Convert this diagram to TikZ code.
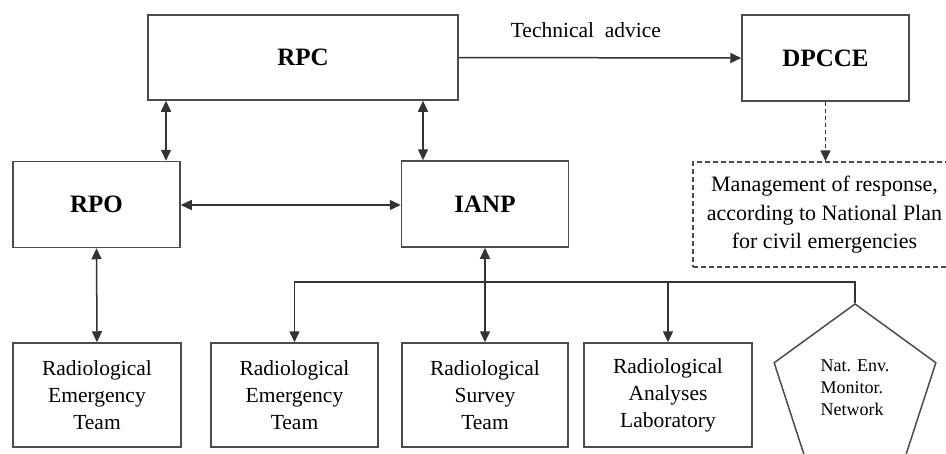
\documentclass[tikz,border=0pt]{standalone}
\usepackage{fontspec}
\setmainfont{Liberation Serif}
\usetikzlibrary{arrows.meta,shapes.geometric}

\begin{document}
\begin{tikzpicture}[x=1pt,y=-1pt,
	unit/.style={draw=black!70, line width=1.5pt, fill=white, align=center, inner sep=2pt},
	head/.style={unit, font=\fontsize{25}{30}\selectfont\bfseries, minimum width=167pt, minimum height=86pt},
	team/.style={unit, font=\fontsize{21.5}{27}\selectfont, minimum width=168pt, minimum height=104pt},
	link/.style={draw=black!80, line width=1.5pt, -{Triangle[length=11pt,width=10pt]}},
	both/.style={link, {Triangle[length=11pt,width=10pt]}-{Triangle[length=11pt,width=10pt]}}
	]
	\useasboundingbox (0,0) rectangle (946,453);
	
	% upper level
	\node[head, minimum width=310pt, minimum height=85pt] (rpc) at (303,57.5) {RPC};
	\node[head] (dpcce) at (825.5,58) {DPCCE};
	\node[head] (rpo) at (96.5,204.5) {RPO};
	\node[head] (ianp) at (485,204) {IANP};
	\node[unit, dash pattern=on 5pt off 3pt, minimum width=280pt, minimum height=105pt,
		font=\fontsize{22}{28.5}\selectfont] (mgmt) at (833,214.5)
		{\hspace*{-17pt}\begin{tabular}{@{}c@{}}Management of response,\\ according to National Plan\\ for civil emergencies\end{tabular}};
	
	% teams
	\node[team] (ret1) at (97,395) {Radiological\\ Emergency\\ Team};
	\node[team, minimum width=167pt] (ret2) at (294.5,395) {Radiological\\ Emergency\\ Team};
	\node[team, minimum width=166pt] (rst) at (485,395) {Radiological\\ Survey\\ Team};
	\node[team] (ral) at (668,395) {Radiological\\ Analyses\\ Laboratory};
	\node[unit, regular polygon, regular polygon sides=5, minimum size=170pt, align=left,
		font=\fontsize{18}{22}\selectfont] (nemn) at (855,389)
		{\raisebox{9pt}{\begin{tabular}{@{}l@{}}Nat. Env.\\ Monitor.\\ Network\end{tabular}}};
	
	\coordinate (c1) at (166,0);
	\coordinate (c2) at (423,0);
	\coordinate (mid) at (0,205);
	\coordinate (bus) at (0,282);
	
	\draw[link] (rpc.east) -- (dpcce.west)
		node[pos=0.45, above=16pt, font=\fontsize{21.5}{26}\selectfont] (adv) {Technical\ \ advice};
	\draw[link, dash pattern=on 4pt off 3pt] (dpcce.south) -- (mgmt.north -| dpcce.south);
	\draw[both] (rpc.south -| c1) -- (rpo.north -| c1);
	\draw[both] (rpc.south -| c2) -- (ianp.north -| c2);
	\draw[both] (rpo.east |- mid) -- (ianp.west |- mid);
	\draw[both] (rpo.south) -- (ret1.north);
	\draw[both] (ianp.south) -- (rst.north);
	
	\draw[link] (nemn.corner 1) -- (nemn.corner 1 |- bus) -- (ret2.north |- bus) -- (ret2.north);
	\draw[link] (ral.north |- bus) -- (ral.north);
	
\end{tikzpicture}
\end{document}
